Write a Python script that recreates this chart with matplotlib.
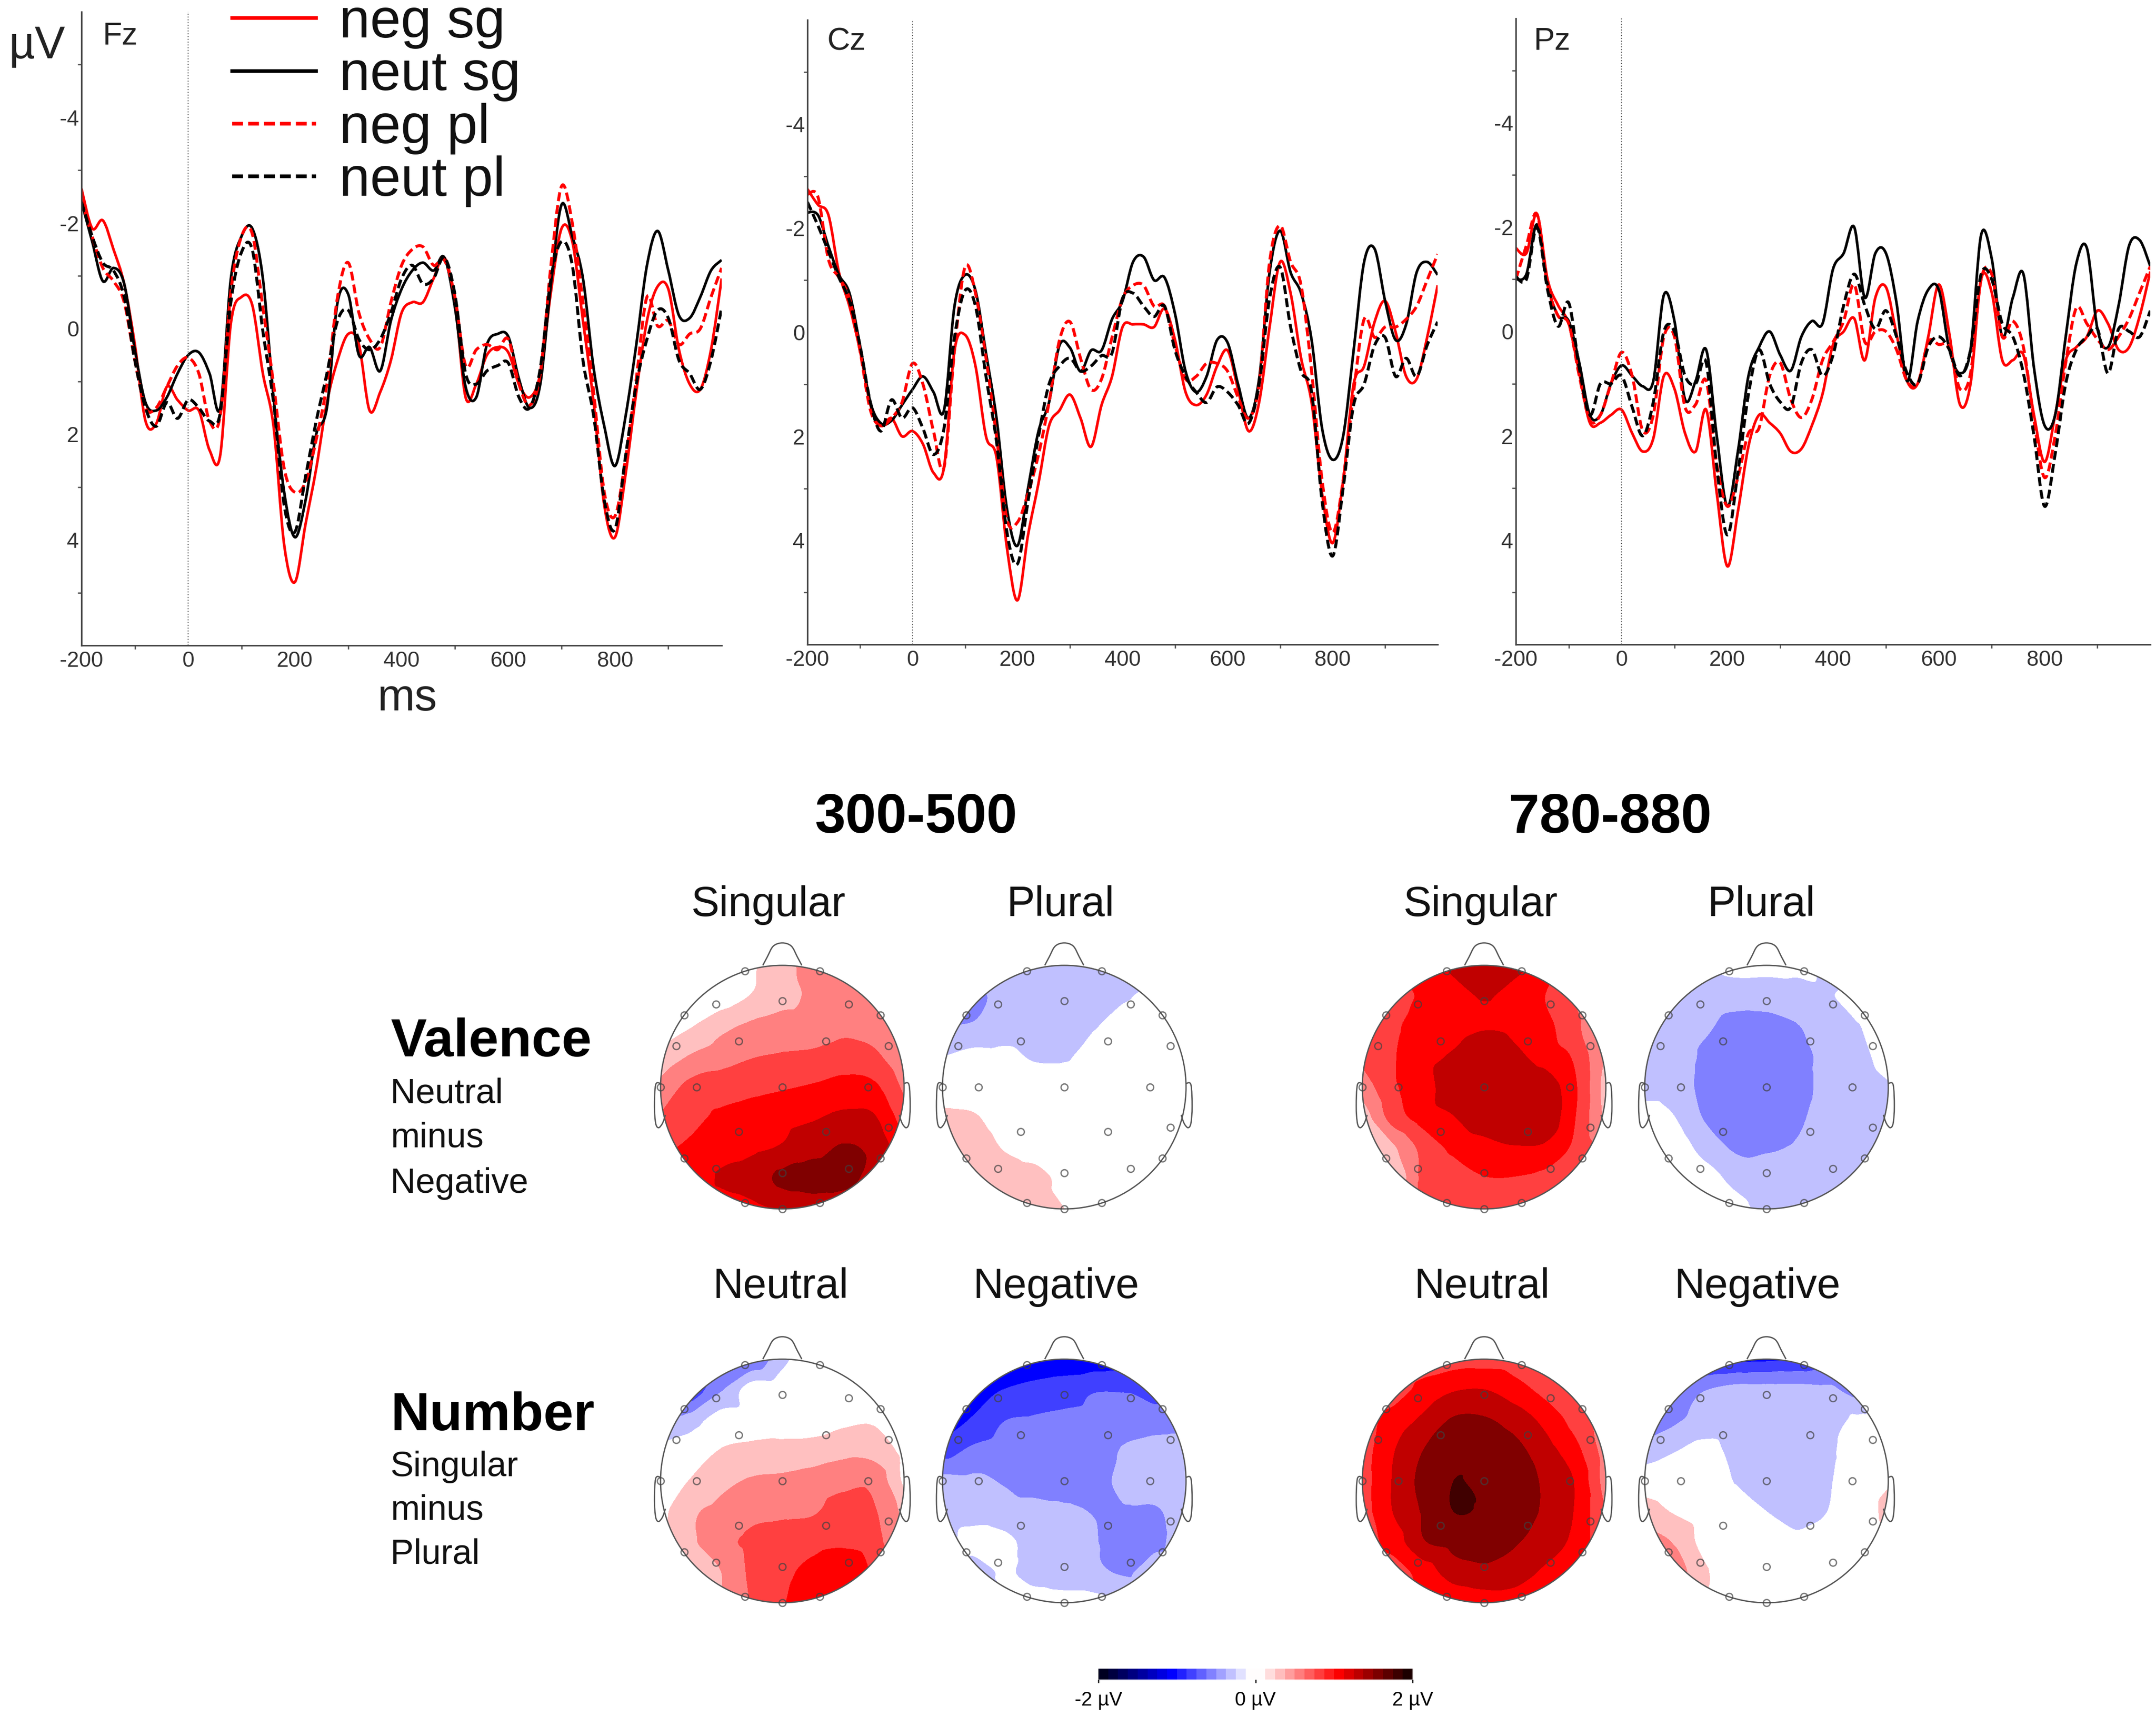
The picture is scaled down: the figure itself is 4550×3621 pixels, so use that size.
import numpy as np
import matplotlib
matplotlib.use("Agg")
import matplotlib.pyplot as plt
import matplotlib.tri as mtri
from matplotlib.cm import ScalarMappable
from matplotlib.colors import BoundaryNorm, ListedColormap, LinearSegmentedColormap
from matplotlib.lines import Line2D
from matplotlib.patches import Circle, PathPatch
from matplotlib.path import Path

plt.rcParams["font.family"] = ["Liberation Sans", "DejaVu Sans"]
plt.rcParams["axes.unicode_minus"] = False

W, H = 4550, 3621

# ERP waves, uV every 20 ms from -200 to 1000
times = list(range(-200, 1001, 20))
tick_ms = [-200, 0, 200, 400, 600, 800]
tick_uv = [-4, -2, 0, 2, 4]

fz_neg_sg = [-2.65, -1.9, -2.05, -1.5, -.85, .3, 1.75, 1.8, 1.1, 1.35, 1.55,
             1.55, 2.3, 2.4, -.1, -.6, -.45, .85, 1.85, 4.1, 4.8,
             3.7, 2.65, 1.4, .6, .1, .3, 1.55, 1.2, .6, -.3,
             -.5, -.5, -.95, -1.35, -.5, 1.3, 1.05, .5, .35, .45,
             1.05, 1.3, .85, -.7, -1.9, -1.65, -.15, 1.4, 3.35, 3.95,
             2.75, 1.2, -.15, -.8, -.75, .4, 1.05, 1.15, .4, -.95]
fz_neut_sg = [-2.4, -1.65, -.9, -1.15, -.85, .4, 1.4, 1.55, 1.3, .85, .5,
              .45, .85, 1.5, -.95, -1.75, -1.9, -.95, 1.3, 3.1, 3.95,
              3.25, 2, 1.5, -.5, -.65, .5, .35, .8, -.15, -.75,
              -1.1, -1.25, -1.1, -1.35, -.4, 1.1, 1.3, .3, .1, .15,
              .95, 1.5, 1.05, -.85, -2.35, -1.75, -.95, .75, 1.85, 2.6,
              1.65, .3, -1.2, -1.85, -1.1, -.25, -.2, -.6, -1.1, -1.3]
fz_neg_pl = [-2.45, -1.75, -1.15, -.9, -.5, .6, 1.5, 1.5, 1.1, .7, .55,
             .85, 1.75, 1.65, -.7, -1.75, -1.8, -.4, 1.05, 2.65, 3.1,
             2.9, 2.1, 1.05, -.6, -1.25, -.3, .2, .35, -.5, -1.2,
             -1.5, -1.55, -1.2, -1.3, -.6, .7, .4, .3, .4, .2,
             1.05, 1.45, .85, -1.2, -2.7, -2, -.5, 1.2, 3.1, 3.55,
             2.45, .95, -.6, -.05, -.15, .3, .1, 0, -.6, -1.15]
fz_neut_pl = [-2.4, -1.75, -1.25, -1.1, -.6, .6, 1.5, 1.85, 1.4, 1.7, 1.35,
              1.5, 1.75, 1.6, -.5, -1.45, -1.5, .05, 1.4, 3.35, 3.85,
              2.8, 1.75, .85, -.15, -.35, .2, .4, .2, -.3, -.95,
              -1.2, -.85, -.95, -1.35, -.65, .85, 1.05, .8, .7, .65,
              1.3, 1.5, .75, -.95, -1.65, -1.2, .6, 1.65, 3.25, 3.8,
              2.4, 1.05, .2, -.35, -.2, .6, .85, 1.15, .6, -.4]

cz_neg_sg = [-2.75, -2.45, -2.25, -1.15, -.5, .35, 1.4, 1.8, 1.65, 2, 1.9,
             2.15, 2.7, 2.6, .35, .05, .65, 2, 2.4, 4.15, 5.15,
             3.9, 2.9, 1.8, 1.5, 1.2, 1.65, 2.2, 1.4, .85, -.1,
             -.15, -.15, -.1, -.45, .15, 1.15, 1.4, 1.2, .65, .35,
             1.1, 1.9, 1.35, -.1, -1.35, -.75, .5, 1.35, 3.1, 4.05,
             2.85, 1, .65, -.2, -.6, 0, .85, .9, .1, -.9]
cz_neut_sg = [-2.3, -2.25, -1.65, -1.1, -.75, .25, 1.35, 1.75, 1.7, 1.4, 1.1,
              .85, 1.15, 1.5, -.5, -1.1, -.8, .4, 1.65, 3.4, 4.1,
              3, 1.9, 1.35, .25, .3, .75, .35, .35, -.25, -.6,
              -1.35, -1.45, -1, -1.05, -.35, .75, 1.15, .85, .15, .2,
              1, 1.65, .9, -1.15, -1.95, -1.15, -.75, .15, 1.85, 2.45,
              2, .35, -1.35, -1.6, -.6, .15, -.15, -1.15, -1.35, -1.1]
cz_neg_pl = [-2.65, -2.6, -1.4, -1.05, -.65, .35, 1.5, 1.8, 1.65, 1.35, .6,
             1, 1.9, 2.6, .35, -1.25, -.75, .5, 2, 3.6, 3.65,
             3.1, 2.35, 1.35, .15, -.2, .5, 1.1, .9, .1, -.65,
             -.9, -.9, -.5, -.5, .25, .9, .85, .6, .6, .75,
             1.25, 1.65, 1, -1.35, -2.05, -1.35, -.9, .75, 2.85, 3.85,
             2.85, 1.15, -.25, .1, -.1, -.1, -.25, -.5, -1, -1.5]
cz_neut_pl = [-2.5, -2.05, -1.55, -1.05, -.6, .25, 1.35, 1.9, 1.3, 1.65, 1.45,
              1.85, 2.35, 1.85, .1, -.8, -.5, .85, 2.1, 3.85, 4.45,
              3.25, 2, 1, .65, .5, .75, .65, .45, .4, -.65,
              -.75, -.5, -.3, -.5, .35, .85, 1.15, 1.35, 1.05, 1.15,
              1.4, 1.75, 1, -.65, -1.25, -.1, .75, 1.15, 3.25, 4.3,
              3, 1.4, 1, .25, .1, .85, .5, .85, .25, -.2]

pz_neg_sg = [-1.6, -1.5, -2.25, -1, -.5, -.15, .8, 1.75, 1.75, 1.6, 1.5,
             1.95, 2.3, 2.05, .85, 1.1, 1.95, 2.3, 1.5, 3.1, 4.5,
             3.45, 2.2, 1.6, 1.75, 1.95, 2.3, 2.25, 1.8, 1.2, .25,
             0, -.25, .55, -.65, -.85, .05, .95, 1, .1, -.9,
             .05, 1.4, 1, -1, -.75, .55, .55, .45, 1.6, 2.5,
             1.6, .55, .3, .1, -.4, -.15, .35, .3, -.3, -1.15]
pz_neut_sg = [-1, -1.1, -2.05, -.9, -.3, -.2, .6, 1.6, 1.6, 1, .65,
              .85, 1.05, .95, -.7, -.2, 1.3, .95, .35, 2, 3.35,
              2.3, .85, .3, 0, .45, .75, .1, -.2, -.15, -1.2,
              -1.5, -2, -.65, -1.5, -1.5, -.55, .95, -.2, -.8, -.8,
              .35, .8, .35, -1.85, -1.4, .1, -.65, -1.1, .7, 1.8,
              1.6, .1, -1.3, -1.6, -.05, .3, -.5, -1.65, -1.75, -1.25]
pz_neg_pl = [-1, -1.65, -2.25, -.9, -.3, -.15, .85, 1.7, 1.6, 1, .4,
             .85, 1.9, 1.6, .1, .1, 1.45, 1.4, .95, 2.55, 3.35,
             2.8, 1.95, 1.85, .85, .6, 1.3, 1.65, 1.3, .55, .2,
             -.2, -.9, .2, 0, 0, .35, .95, 1, .2, .25,
             .3, 1.1, .8, -1, -1.1, .1, -.2, .3, 1.7, 2.8,
             2, .6, -.45, -.15, .15, .35, .1, -.25, -.75, -1.25]
pz_neut_pl = [-1.05, -1, -2, -.8, -.1, -.55, .7, 1.6, 1, 1, .85,
              1.45, 2, 1.35, 0, 0, .85, 1, .6, 2.6, 3.9,
              2.7, 1.2, .35, 1, 1.35, 1.45, .6, .35, .85, .45,
              -.5, -1.1, -.5, -.05, -.4, .1, .8, 1, .3, .1,
              .35, .85, .35, -1.1, -1, -.15, .1, .8, 2, 3.35,
              2.35, 1, .35, .1, -.05, .8, -.05, 0, .1, -.4]

# scalp maps, in 0.25 uV steps, rows top to bottom on a 9 x 9 grid over the head
grid_pos = [-1, -.75, -.5, -.25, 0, .25, .5, .75, 1]

map_val_sg_300 = [[0, 0, 0, .4, 1, 2, 2, 2, 2],
                  [0, 0, 0, .55, 1.1, 1.7, 2, 2, 2],
                  [0, .45, 1.2, 1.7, 2, 2, 2.3, 2.2, 2],
                  [.8, 1.6, 2.1, 2.45, 2.6, 2.7, 2.9, 2.7, 1.8],
                  [1.8, 2.8, 3, 3.2, 3.4, 3.6, 3.9, 3.7, 2.3],
                  [2.6, 3.2, 3.7, 4, 4.2, 4.4, 4.7, 4.6, 3],
                  [3.3, 3.7, 4.1, 4.3, 4.6, 5.1, 5.6, 5.2, 3.8],
                  [3.8, 4, 4.6, 5, 5.7, 6, 5.9, 5, 4],
                  [4, 4, 4, 4.2, 4.6, 4.7, 4.5, 4, 4]]
map_val_pl_300 = [[-1, -1, -1, -1, -1, -1, -1, -1, -.5],
                  [-2, -1.8, -1.2, -1, -1, -.9, -.6, -.2, 0],
                  [-1.5, -1.4, -1, -1, -.9, -.55, -.15, 0, 0],
                  [-.5, -.2, -.25, -.6, -.6, -.15, 0, 0, 0],
                  [0, 0, 0, 0, 0, 0, 0, 0, 0],
                  [.7, .6, .1, 0, 0, 0, 0, 0, 0],
                  [1, 1, .45, .1, 0, 0, 0, 0, 0],
                  [1, 1, 1, .85, .25, 0, 0, 0, 0],
                  [.8, .8, .8, .8, .5, 0, 0, 0, 0]]
map_val_sg_780 = [[3.5, 3.5, 3.8, 4.7, 5.2, 4.8, 4, 3, 2],
                  [3, 3, 3.7, 4.2, 4.55, 4.2, 3.5, 2.5, 2],
                  [2.9, 3.3, 4, 4.2, 4.45, 4.3, 3.8, 2.7, 1.5],
                  [2.7, 3.4, 4.2, 4.6, 5, 4.7, 4.1, 3.3, 1.3],
                  [1.9, 3.3, 4.1, 5, 5.2, 5.2, 5.1, 3.6, 1],
                  [.9, 2.9, 3.9, 4.45, 5.1, 5.4, 5.2, 3.5, 1.2],
                  [0, 1.3, 2.8, 3.7, 4.1, 4.4, 4.3, 3.2, 2],
                  [0, .5, 2.7, 3.1, 3.45, 3.45, 3.2, 2.5, 1],
                  [2, 2, 2.6, 3, 3, 3, 2.6, 2, 1]]
map_val_pl_780 = [[-1, -1, -.6, -.2, -.2, -.2, -.7, -1, -1],
                  [-1.5, -1.3, -1, -1, -1, -1, -.6, -.1, 0],
                  [-1.2, -1.1, -1.35, -1.9, -1.9, -1.55, -1, -.55, 0],
                  [-1, -1, -1.7, -2.1, -2.2, -2, -1.1, -.8, -.1],
                  [-.9, -1, -1.8, -2.2, -2.3, -1.9, -1.2, -1, -.6],
                  [0, -.5, -1.6, -2.1, -2.2, -1.7, -1.1, -1, -.8],
                  [0, 0, -.9, -1.65, -1.6, -1.4, -1, -1, -1],
                  [0, 0, -.1, -.8, -1.1, -1.1, -1, -1, -1],
                  [0, 0, 0, -.2, -.8, -1, -1, -1, -1]]
map_val_neut_300 = [[-3, -3, -3, -2.5, -.8, 0, 0, 0, 0],
                    [-4, -3.3, -1.6, 0, 0, 0, 0, 0, 0],
                    [-1.5, -1, 0, 0, 0, 0, .3, .4, 0],
                    [-.3, 0, .55, .75, .85, .95, 1.2, 1.1, .2],
                    [0, .55, 1.2, 1.6, 1.7, 1.9, 2.2, 2.2, .3],
                    [.2, 1.3, 1.8, 2.2, 2.3, 2.4, 2.9, 2.6, 1.2],
                    [.2, 1.3, 2.2, 2.7, 3, 3.1, 3.3, 2.9, 1.3],
                    [0, .4, 1.5, 2.7, 3.2, 3.9, 4.3, 3.3, 2],
                    [1, 1, 1.5, 2.6, 3.4, 4.2, 3.8, 3, 2]]
map_val_neg_300 = [[-4.5, -4.5, -4.5, -4.3, -4.2, -4.2, -4.1, -4, -4],
                   [-4.5, -4, -3.5, -3.2, -3, -2.6, -2.6, -3, -3],
                   [-4.2, -3.4, -2.55, -2.4, -2.3, -2.2, -2, -2, -2],
                   [-3, -2.3, -2.1, -2, -2, -2, -1.4, -1.1, -1],
                   [-1.2, -1.3, -1.6, -2, -2.1, -2, -1.1, -1, -1],
                   [-1, -.9, -1, -1.1, -1.3, -1.55, -1.6, -1.6, -1],
                   [-.9, -.2, -.3, -.8, -1.1, -1.45, -2, -1.7, -1],
                   [-1, -1, -.4, -.8, -1, -1.3, -1.6, -1, -1],
                   [-1, -1, -.6, -.1, -.1, -.1, -.6, -1, -1]]
map_val_neut_780 = [[3, 3, 3, 3, 3, 3, 3, 2, 2],
                    [2.8, 3, 3.8, 4.4, 4.5, 3.9, 3.2, 2.6, 2],
                    [3, 3.9, 4.7, 5.6, 5.6, 5.1, 4.2, 3.1, 2],
                    [3, 4.4, 5.5, 6.1, 6.1, 5.8, 4.9, 3.8, 2],
                    [3, 4.55, 5.8, 6.5, 6.3, 6.2, 5.3, 4.4, 2],
                    [3, 4.5, 5.6, 6.5, 6.4, 6.2, 5.3, 4.4, 2.4],
                    [3, 3.9, 5.4, 5.8, 6.1, 5.6, 5, 4.2, 2.6],
                    [3, 3, 3.9, 5, 5.2, 5, 4.3, 3.4, 2.5],
                    [3, 3, 3.3, 3.6, 3.9, 3.9, 3.3, 3, 2.5]]
map_val_neg_780 = [[-4, -4, -4, -3.8, -3.7, -3.5, -3, -3, -3],
                   [-4, -2.7, -1.55, -1.2, -1.2, -1.2, -1.3, -2, -2],
                   [-2.8, -1.7, -1.1, -1, -1, -1, -1, -.3, 0],
                   [-1, -.55, -.2, -.8, -1, -1, -.7, 0, 0],
                   [0, 0, 0, -.55, -.9, -1, -.6, 0, .4],
                   [.9, .4, 0, 0, -.5, -.85, -.5, 0, .7],
                   [2, 1.4, .1, 0, 0, -.3, -.2, 0, .3],
                   [2, 2, .6, 0, 0, 0, 0, 0, 0],
                   [2, 2, .5, 0, 0, 0, 0, 0, 0]]

# electrode positions on the unit head
elec_x = [-.306, .306, -.806, .806, -.873, .873, -1, -.545, 0, .545, -.358, .358,
          -.706, 0, .706, -.358, .358, .871, -.806, .806, -.545, .545, 0, -.306, .306, 0]
elec_y = [.954, .954, .59, .59, .337, .337, 0, .68, .71, .68, .376, .376,
          0, 0, 0, -.366, -.366, -.33, -.584, -.584, -.67, -.67, -.703, -.95, -.95, -1]
nose_x = [-.16, -.123, -.074, 0, .074, .123, .16]
nose_y = [1.0, 1.07, 1.158, 1.184, 1.158, 1.07, 1.0]
ear_x = [-1.0, -1.04, -1.05, -1.04, -1.016, -.984, -.96]
ear_y = [.03, .02, -.158, -.297, -.333, -.297, -.228]

cbar_ticks = [-2, 0, 2]
cbar_labels = ["-2 µV", "0 µV", "2 µV"]


def px_axes(fig, left, top, right, bottom):
    return fig.add_axes([left / W, 1 - bottom / H, (right - left) / W, (bottom - top) / H])


def smooth_path(x, y):
    # bezier through the read points, catmull-rom handles
    p = np.column_stack([x, y]).astype(float)
    before = np.vstack([p[0], p[:-1]])
    after = np.vstack([p[1:], p[-1]])
    slope = (after - before) / 6
    verts = [p[0]]
    codes = [Path.MOVETO]
    for i in range(len(p) - 1):
        verts += [p[i] + slope[i], p[i + 1] - slope[i + 1], p[i + 1]]
        codes += [Path.CURVE4] * 3
    return Path(verts, codes)


fig = plt.figure(figsize=(W / 100, H / 100), dpi=100)

# ---- waves
panels = [("Fz", (172, 25, 1523, 1362), (216, 77), (fz_neg_sg, fz_neut_sg, fz_neg_pl, fz_neut_pl)),
          ("Cz", (1704, 42, 3034, 1360), (1746, 88), (cz_neg_sg, cz_neut_sg, cz_neg_pl, cz_neut_pl)),
          ("Pz", (3199, 39, 4538, 1360), (3236, 88), (pz_neg_sg, pz_neut_sg, pz_neg_pl, pz_neut_pl))]
names = ["neg sg", "neut sg", "neg pl", "neut pl"]
cols = ["#ff0000", "#000000", "#ff0000", "#000000"]
dash = (0, (3.0, 1.4))
styles = ["-", "-", dash, dash]
for title, box, title_pos, waves in panels:
    ax = px_axes(fig, *box)
    ax.axvline(0, color="#666666", lw=1.6, ls=":")
    for wave, c, st in zip(waves, cols, styles):
        lw = 4.0 if st == "-" else 4.5
        ax.add_patch(PathPatch(smooth_path(times, wave), fc="none", ec=c, ls=st, lw=lw, capstyle="butt"))
    ax.set_xlim(-200, 1000)
    ax.set_ylim(6, -6)
    ax.set_xticks(tick_ms)
    ax.set_yticks(tick_uv)
    ax.set_xticks(range(-100, 1000, 100), minor=True)
    ax.set_yticks(range(-5, 6), minor=True)
    ax.tick_params(axis="both", labelsize=33, colors="#333333", length=0)
    ax.tick_params(axis="x", pad=8)
    ax.tick_params(axis="y", pad=4)
    ax.tick_params(which="minor", length=6, width=2, color="#555555", direction="out")
    for s in ("top", "right"):
        ax.spines[s].set_visible(False)
    for s in ("left", "bottom"):
        ax.spines[s].set_color("#444444")
        ax.spines[s].set_linewidth(2.4)
    fig.text(title_pos[0] / W, 1 - title_pos[1] / H, title, fontsize=48, color="#222222", va="center")

handles = [Line2D([], [], color=c, ls=st, lw=5.5) for c, st in zip(cols, styles)]
fig.legend(handles, names, loc="upper left", bbox_to_anchor=(490 / W, 1 + 6 / H), frameon=False,
           fontsize=84, handlelength=1.52, handletextpad=.42, labelspacing=.02, borderpad=0, borderaxespad=0,
           labelcolor="#111111")

fig.text(78 / W, 1 - 98 / H, "µV", fontsize=69, ha="center", va="center", color="#222222")
fig.text(860 / W, 1 - 1475 / H, "ms", fontsize=68, ha="center", va="center", color="#222222")

# ---- scalp maps
band_edges = [-1.875, -1.625, -1.375, -1.125, -.875, -.625, -.375, -.125,
              .125, .375, .625, .875, 1.125, 1.375, 1.625, 1.875]
band_cols = ["#000040", "#000080", "#0000c0", "#0000ff", "#4040ff", "#8080ff", "#c0c0ff", "#ffffff",
             "#ffc0c0", "#ff8080", "#ff4040", "#ff0000", "#c00000", "#800000", "#400000"]
gx, gy = np.meshgrid(grid_pos, grid_pos[::-1])
tri = mtri.Triangulation(gx.ravel(), gy.ravel())
fine = np.linspace(-1, 1, 500)
fx, fy = np.meshgrid(fine, fine)

R = 257
maps = [(map_val_sg_300, 1651, 2294), (map_val_pl_300, 2246, 2294),
        (map_val_sg_780, 3132, 2294), (map_val_pl_780, 3728, 2294),
        (map_val_neut_300, 1651, 3125), (map_val_neg_300, 2246, 3125),
        (map_val_neut_780, 3132, 3125), (map_val_neg_780, 3728, 3125)]
for vals, cx, cy in maps:
    ax = px_axes(fig, cx - 1.3 * R, cy - 1.3 * R, cx + 1.3 * R, cy + 1.3 * R)
    ax.set_xlim(-1.3, 1.3)
    ax.set_ylim(-1.3, 1.3)
    ax.axis("off")
    interp = mtri.CubicTriInterpolator(tri, (np.array(vals, float) * .25).ravel(), kind="geom")
    cs = ax.contourf(fx, fy, np.clip(interp(fx, fy), -1.87, 1.87), levels=band_edges, colors=band_cols)
    head = Circle((0, 0), 1, fc="none", ec="#555555", lw=2)
    ax.add_patch(head)
    cs.set_clip_path(head)
    ax.add_patch(PathPatch(smooth_path(nose_x, nose_y), fc="none", ec="#555555", lw=2))
    ax.add_patch(PathPatch(smooth_path(ear_x, ear_y), fc="none", ec="#555555", lw=2))
    ax.add_patch(PathPatch(smooth_path(-np.array(ear_x), ear_y), fc="none", ec="#555555", lw=2))
    ax.plot(elec_x, elec_y, ls="none", marker="o", ms=10.5, mfc="none", mec=(.25, .25, .25, .7), mew=2)

# ---- text
fs_title = 84
fs_head = 64
fs_side = 53
fig.text(1933 / W, 1 - 1726 / H, "300-500", fontsize=fs_title, weight="bold", ha="center", va="center")
fig.text(3398 / W, 1 - 1726 / H, "780-880", fontsize=fs_title, weight="bold", ha="center", va="center")
for label, x, y in [("Singular", 1622, 1910), ("Plural", 2238, 1910), ("Singular", 3125, 1910), ("Plural", 3717, 1910),
                    ("Neutral", 1648, 2716), ("Negative", 2229, 2716), ("Neutral", 3128, 2716), ("Negative", 3709, 2716)]:
    fig.text(x / W, 1 - y / H, label, fontsize=fs_head, ha="center", va="center", color="#111111")
for label, y in [("Valence", 2200), ("Number", 2989)]:
    fig.text(824 / W, 1 - y / H, label, fontsize=82, weight="bold", va="center")
for label, y in [("Neutral", 2308), ("minus", 2401), ("Negative", 2497),
                 ("Singular", 3095), ("minus", 3187), ("Plural", 3280)]:
    fig.text(824 / W, 1 - y / H, label, fontsize=fs_side, va="center", color="#111111")

# ---- colour bar
bounds = np.arange(-2, 2.001, .125)
mids = (bounds[:-1] + bounds[1:]) / 2
base = LinearSegmentedColormap.from_list(
    "bwrk", [(0, "#000000"), (.25, "#0000ff"), (.5, "#ffffff"), (.75, "#ff0000"), (1, "#000000")])
step_cols = [base((np.sign(m) * np.floor(abs(m) / .125) * .125 + 2) / 4) for m in mids]
cax = px_axes(fig, 2318, 3521, 2981, 3544)
cb = fig.colorbar(ScalarMappable(BoundaryNorm(bounds, len(mids)), ListedColormap(step_cols)), cax=cax,
                  orientation="horizontal", spacing="proportional", drawedges=False)
cb.set_ticks(cbar_ticks)
cb.set_ticklabels(cbar_labels)
cb.ax.minorticks_off()
cb.ax.tick_params(labelsize=30, length=5, width=2, pad=12, color="#222222")
cb.outline.set_visible(False)

fig.savefig("out.png", dpi=100, facecolor="white")
